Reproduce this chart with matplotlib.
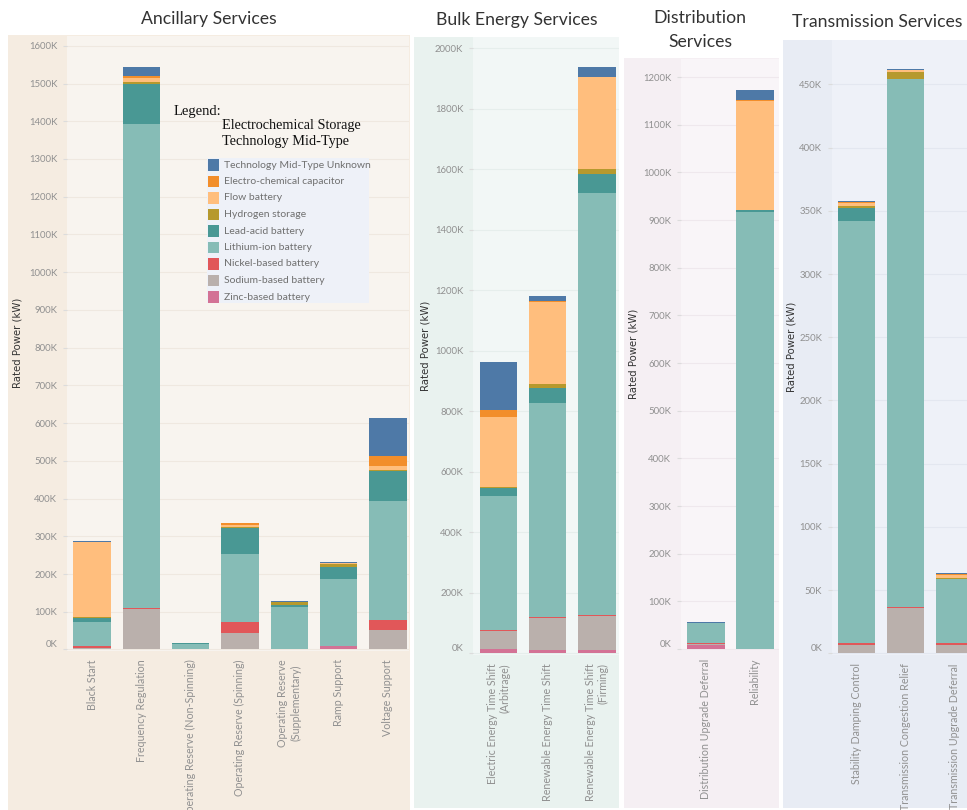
import numpy as np
import matplotlib
matplotlib.use('Agg')
import matplotlib.pyplot as plt
from matplotlib.patches import Rectangle

W, H = 967, 810
plt.rcParams['font.family'] = ['Lato', 'DejaVu Sans']

# stacking order, bottom to top
techs = ['Zinc-based battery', 'Sodium-based battery', 'Nickel-based battery',
         'Lithium-ion battery', 'Lead-acid battery', 'Hydrogen storage',
         'Flow battery', 'Electro-chemical capacitor', 'Technology Mid-Type Unknown']
colors = ['#d37295', '#bab0ac', '#e15759', '#86bcb6', '#499894', '#b6992d',
          '#ffbe7d', '#f28e2b', '#4e79a7']

# values in kW / 1000, rows follow techs
anc_cats = ['Black Start', 'Frequency Regulation', 'Operating Reserve (Non-Spinning)',
            'Operating Reserve (Spinning)', 'Operating Reserve\n(Supplementary)',
            'Ramp Support', 'Voltage Support']
anc_vals = [[1, 0, 0, 1, 0, 9, 0],
            [4, 108, 0, 42, 0, 0, 52],
            [3, 2, 2, 30, 2, 1, 26],
            [65, 1283, 13, 181, 111, 178, 316],
            [10, 107, 1, 67, 4, 30, 79],
            [2, 3, 0, 4, 9, 8, 3],
            [199, 12, 0, 6, 1, 2, 10],
            [0, 5, 0, 3, 0, 0, 28],
            [4, 25, 2, 2, 2, 3, 100]]

bulk_cats = ['Electric Energy Time Shift\n(Arbitrage)', 'Renewable Energy Time Shift',
             'Renewable Energy Time Shift\n(Firming)']
bulk_vals = [[14, 11, 11],
             [60, 104, 112],
             [3, 4, 3],
             [442, 707, 1395],
             [26, 51, 63],
             [3, 12, 17],
             [233, 272, 303],
             [24, 3, 2],
             [156, 17, 33]]

dist_cats = ['Distribution Upgrade Deferral', 'Reliability']
dist_vals = [[8, 0],
             [3, 1],
             [1, 0],
             [43, 917],
             [0, 3],
             [0, 0],
             [0, 228],
             [0, 2],
             [2, 23]]

trans_cats = ['Stability Damping Control', 'Transmission Congestion Relief',
              'Transmission Upgrade Deferral']
trans_vals = [[0, 0, 0],
              [7, 36, 7],
              [1, 1, 1],
              [334, 417, 51],
              [10, 0, 0],
              [2, 6, 1],
              [2, 1, 2],
              [1, 0, 1],
              [1, 1, 1]]

fig = plt.figure(figsize=(W / 100, H / 100), dpi=100)


def fx(x):
    return x / W


def fy(y):
    return 1 - y / H


def bg(x0, y0, x1, y1, c, z=-10):
    fig.patches.append(Rectangle((fx(x0), fy(y1)), (x1 - x0) / W, (y1 - y0) / H,
                                 transform=fig.transFigure, facecolor=c,
                                 edgecolor='none', zorder=z))


def draw(cats, vals, inner, xlim, ylim, ymax, ystep, inner_c, grid_c, align):
    x0, y0, x1, y1 = inner
    ax = fig.add_axes([fx(x0), fy(y1), (x1 - x0) / W, (y1 - y0) / H])
    ax.set_facecolor(inner_c)
    x = np.arange(len(cats))
    bottom = np.zeros(len(cats))
    for c, v in zip(colors, vals):
        v = np.array(v, dtype=float)
        ax.bar(x, v, 0.76, bottom=bottom, color=c, linewidth=0, zorder=3)
        bottom += v
    ax.set_xlim(*xlim)
    ax.set_ylim(*ylim)
    ticks = np.arange(0, ymax + 1, ystep)
    ax.set_yticks(ticks)
    ax.set_yticklabels([f'{int(t)}K' for t in ticks])
    ax.set_xticks(x)
    ax.set_xticklabels(cats, rotation=90, ha='center', va='top')
    for lbl in ax.get_xticklabels():
        lbl.set_multialignment(align)
    ax.yaxis.get_major_ticks()[0].label1.set_verticalalignment('bottom')
    ax.yaxis.grid(True, color=grid_c, lw=0.8)
    ax.set_axisbelow(True)
    for s in ax.spines.values():
        s.set_visible(False)
    ax.tick_params(axis='y', length=3, color='#dcdcdc', labelsize=6.9,
                   labelcolor='#909090', pad=4)
    ax.tick_params(axis='x', length=0, labelsize=7.7, labelcolor='#909090', pad=6)
    return ax


# panel backgrounds
bg(8, 35, 410, 810, '#f5ece1')
bg(414, 37, 619, 808, '#e9f2ef')
bg(624, 58, 779, 808, '#f5eff3')
bg(783, 40, 967, 808, '#e8ecf4')

draw(anc_cats, anc_vals, (67, 36, 409, 651), (-0.51, 6.43), (-4, 1626), 1600, 100,
     '#f8f4ef', '#efe8e0', 'center')
draw(bulk_cats, bulk_vals, (473, 37, 619, 655), (-0.52, 2.45), (-6, 2037), 2000, 200,
     '#f2f7f6', '#e6eeec', 'right')
draw(dist_cats, dist_vals, (681, 59, 779, 650), (-0.51, 1.49), (-2, 1238), 1200, 100,
     '#f9f5f8', '#efe8ed', 'right')
draw(trans_cats, trans_vals, (832, 40, 979, 655), (-0.5, 2.5), (-1.2, 485), 450, 50,
     '#eef1f8', '#e3e7f0', 'right')

# titles
tcol = '#333333'
fig.text(fx(209), fy(19), 'Ancillary Services', ha='center', va='center', fontsize=12.7, color=tcol)
fig.text(fx(517), fy(20), 'Bulk Energy Services', ha='center', va='center', fontsize=12.7, color=tcol)
fig.text(fx(700), fy(30), 'Distribution\nServices', ha='center', va='center', fontsize=12.7,
         color=tcol, linespacing=1.55)
fig.text(fx(877), fy(22), 'Transmission Services', ha='center', va='center', fontsize=12.7, color=tcol)

ylab_font = ['Liberation Sans Narrow', 'DejaVu Sans']
for xp, yp in [(18, 343), (426, 346), (633, 354), (791, 347)]:
    fig.text(fx(xp), fy(yp), 'Rated Power (kW)', rotation=90, ha='center', va='center',
             fontsize=7.3, color='#333333', family=ylab_font)

# legend
serif = ['Liberation Serif', 'DejaVu Serif']
fig.text(fx(174), fy(111), 'Legend:', ha='left', va='center', fontsize=10.5, color='#111111', family=serif)
fig.text(fx(222), fy(126), 'Electrochemical Storage', ha='left', va='center', fontsize=10.3,
         color='#111111', family=serif)
fig.text(fx(222), fy(142), 'Technology Mid-Type', ha='left', va='center', fontsize=10.3,
         color='#111111', family=serif)
bg(207, 158, 369, 303, '#eef1f8', z=5)
for i, (t, c) in enumerate(zip(techs[::-1], colors[::-1])):
    yc = 165 + i * 16.5
    bg(208.3, yc - 5.5, 219.3, yc + 5.5, c, z=6)
    fig.text(fx(224), fy(yc), t, ha='left', va='center', fontsize=7.5, color='#707070', zorder=7)

fig.savefig('out.png', dpi=100)
